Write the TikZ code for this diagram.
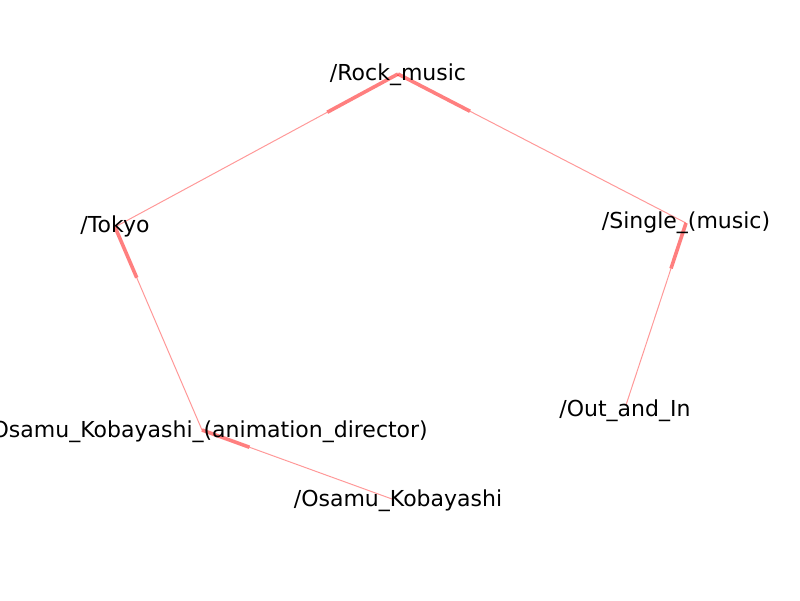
\documentclass[tikz,border=0pt]{standalone}
\usepackage{fontspec}
\setmainfont{DejaVu Sans}
\usetikzlibrary{calc}
\begin{document}
\begin{tikzpicture}[x=1pt,y=-1pt,
  thinedge/.style={draw=red,draw opacity=0.4,line width=1pt},
  headedge/.style={draw=red,draw opacity=0.5,line width=3.6pt},
  lbl/.style={inner sep=0pt,anchor=center,font=\fontsize{22pt}{26pt}\selectfont}]
\useasboundingbox (0,0) rectangle (800,600);
\coordinate (rock) at (398,74);
\coordinate (tokyo) at (115,227);
\coordinate (single) at (686,223);
\coordinate (out) at (626,405);
\coordinate (osamu) at (392,499);
\coordinate (osamuad) at (202,430);
% edges: source -> target
\foreach \s/\t in {tokyo/rock, single/rock, out/single, osamu/osamuad, osamuad/tokyo}{
  \draw[thinedge] (\s) -- ($(\s)!0.75!(\t)$);
  \draw[headedge] ($(\s)!0.75!(\t)$) -- (\t);
}
\node[lbl] (rockL) at (398,75) {/Rock\_music};
\node[lbl] (tokyoL) at (115,226) {/Tokyo};
\node[lbl] (singleL) at (686,223) {/Single\_(music)};
\node[lbl] (outL) at (625,411) {/Out\_and\_In};
\node[lbl] (osamuL) at (398,501) {/Osamu\_Kobayashi};
\node[lbl] (osamuadL) at (206,432) {/Osamu\_Kobayashi\_(animation\_director)};
\end{tikzpicture}
\end{document}
